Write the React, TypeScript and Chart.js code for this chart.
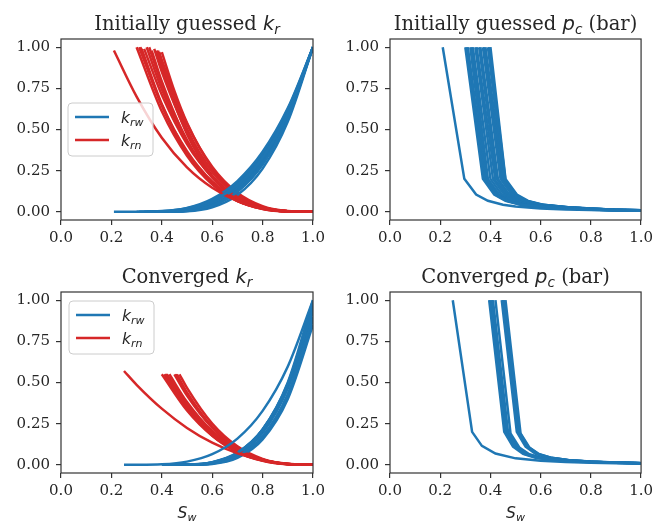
import React, { useEffect, useRef } from "react";
import { Chart, registerables } from "chart.js";

Chart.register(...registerables);

const BLUE = "#1f77b4";
const RED = "#d62728";
const TEXT = "#262626";
const SPINE = "#333333";

const xTickValues = [0, 0.2, 0.4, 0.6, 0.8, 1.0];
const xTickLabels = ["0.0", "0.2", "0.4", "0.6", "0.8", "1.0"];
const yTickValues = [0, 0.25, 0.5, 0.75, 1.0];
const yTickLabels = ["0.00", "0.25", "0.50", "0.75", "1.00"];
const xRange = [0, 1];
const yRange = [-0.05, 1.05];

const legendNames = ["rw", "rn"];

// ---- Initially guessed k_rw (Sw, krw) ----
const initKrwCurves: number[][][] = [
  [[0.21, 0], [0.3, 0.0003], [0.4, 0.0044], [0.5, 0.0222], [0.6, 0.0684], [0.7, 0.163], [0.8, 0.33], [0.9, 0.598], [1, 1]],
  [[0.3, 0], [0.4, 0.0029], [0.5, 0.0233], [0.6, 0.0787], [0.7, 0.1866], [0.8, 0.3644], [0.9, 0.6297], [1, 1]],
  [[0.31, 0], [0.4, 0.0012], [0.5, 0.0142], [0.6, 0.0573], [0.7, 0.1521], [0.8, 0.3232], [0.9, 0.5964], [1, 1]],
  [[0.33, 0], [0.4, 0.0009], [0.5, 0.0142], [0.6, 0.0598], [0.7, 0.1587], [0.8, 0.3331], [0.9, 0.6057], [1, 1]],
  [[0.34, 0], [0.4, 0.001], [0.5, 0.0164], [0.6, 0.0671], [0.7, 0.1724], [0.8, 0.351], [0.9, 0.621], [1, 1]],
  [[0.35, 0], [0.4, 0.0002], [0.5, 0.0068], [0.6, 0.0388], [0.7, 0.1219], [0.8, 0.2865], [0.9, 0.5668], [1, 1]],
  [[0.36, 0], [0.4, 0.0001], [0.5, 0.0077], [0.6, 0.0433], [0.7, 0.1321], [0.8, 0.3015], [0.9, 0.5806], [1, 1]],
  [[0.38, 0], [0.4, 0.0], [0.5, 0.0072], [0.6, 0.0447], [0.7, 0.1375], [0.8, 0.3109], [0.9, 0.59], [1, 1]],
  [[0.39, 0], [0.5, 0.0049], [0.6, 0.0367], [0.7, 0.1226], [0.8, 0.2918], [0.9, 0.5741], [1, 1]],
  [[0.4, 0], [0.5, 0.0027], [0.6, 0.0266], [0.7, 0.1015], [0.8, 0.2624], [0.9, 0.5479], [1, 1]],
];

// ---- Initially guessed k_rn (Sw, krn) ----
const initKrnCurves: number[][][] = [
  [[0.21, 0.98], [0.3, 0.7], [0.4, 0.45], [0.5, 0.27], [0.6, 0.146], [0.7, 0.065], [0.8, 0.021], [0.9, 0.003], [1, 0]],
  [[0.3, 1.0], [0.4, 0.6106], [0.5, 0.3407], [0.6, 0.1668], [0.7, 0.0664], [0.8, 0.0182], [0.9, 0.002], [1, 0]],
  [[0.31, 1.0], [0.4, 0.6484], [0.5, 0.3684], [0.6, 0.1845], [0.7, 0.0756], [0.8, 0.0215], [0.9, 0.0025], [1, 0]],
  [[0.315, 1.0], [0.4, 0.6458], [0.5, 0.3539], [0.6, 0.1694], [0.7, 0.0656], [0.8, 0.0172], [0.9, 0.0017], [1, 0]],
  [[0.32, 0.99], [0.4, 0.655], [0.5, 0.359], [0.6, 0.172], [0.7, 0.0665], [0.8, 0.0175], [0.9, 0.0018], [1, 0]],
  [[0.33, 0.99], [0.4, 0.711], [0.5, 0.411], [0.6, 0.211], [0.7, 0.0889], [0.8, 0.0263], [0.9, 0.0033], [1, 0]],
  [[0.34, 1.0], [0.4, 0.7442], [0.5, 0.4229], [0.6, 0.2118], [0.7, 0.0868], [0.8, 0.0247], [0.9, 0.0029], [1, 0]],
  [[0.35, 1.0], [0.4, 0.774], [0.5, 0.4319], [0.6, 0.2115], [0.7, 0.0842], [0.8, 0.023], [0.9, 0.0025], [1, 0]],
  [[0.36, 0.98], [0.4, 0.792], [0.5, 0.434], [0.6, 0.208], [0.7, 0.0804], [0.8, 0.0211], [0.9, 0.0022], [1, 0]],
  [[0.37, 0.99], [0.4, 0.851], [0.5, 0.484], [0.6, 0.242], [0.7, 0.0993], [0.8, 0.0282], [0.9, 0.0033], [1, 0]],
  [[0.38, 0.98], [0.4, 0.877], [0.5, 0.472], [0.6, 0.221], [0.7, 0.083], [0.8, 0.0209], [0.9, 0.002], [1, 0]],
  [[0.385, 0.98], [0.4, 0.906], [0.5, 0.505], [0.6, 0.247], [0.7, 0.0986], [0.8, 0.027], [0.9, 0.003], [1, 0]],
  [[0.39, 0.97], [0.4, 0.923], [0.5, 0.534], [0.6, 0.2735], [0.7, 0.1154], [0.8, 0.0342], [0.9, 0.0044], [1, 0]],
  [[0.4, 0.97], [0.45, 0.734], [0.5, 0.541], [0.6, 0.265], [0.7, 0.1055], [0.8, 0.0288], [0.9, 0.0032], [1, 0]],
];

// ---- Initially guessed p_c (Sw, pc in bar) ----
const initPcCurves: number[][][] = [
  [[0.21, 1], [0.296, 0.2], [0.343, 0.105], [0.39, 0.067], [0.45, 0.043], [0.5, 0.032], [0.6, 0.02], [0.7, 0.014], [0.8, 0.0105], [0.9, 0.0082], [1, 0.0066]],
  [[0.3, 1], [0.37, 0.2], [0.415, 0.105], [0.46, 0.066], [0.52, 0.043], [0.62, 0.028], [0.7, 0.02], [0.8, 0.013], [0.9, 0.009], [1, 0.007]],
  [[0.305, 1], [0.375, 0.2], [0.42, 0.105], [0.465, 0.066], [0.525, 0.043], [0.625, 0.028], [0.7, 0.021], [0.8, 0.014], [0.9, 0.0095], [1, 0.007]],
  [[0.31, 1], [0.38, 0.2], [0.425, 0.105], [0.47, 0.066], [0.53, 0.043], [0.63, 0.028], [0.7, 0.021], [0.8, 0.014], [0.9, 0.0095], [1, 0.007]],
  [[0.32, 1], [0.385, 0.19], [0.43, 0.1], [0.475, 0.064], [0.535, 0.042], [0.635, 0.027], [0.7, 0.021], [0.8, 0.014], [0.9, 0.0095], [1, 0.007]],
  [[0.325, 1], [0.39, 0.2], [0.435, 0.105], [0.48, 0.066], [0.54, 0.043], [0.64, 0.028], [0.7, 0.022], [0.8, 0.014], [0.9, 0.0098], [1, 0.0072]],
  [[0.33, 1], [0.4, 0.2], [0.445, 0.105], [0.49, 0.066], [0.55, 0.043], [0.65, 0.028], [0.7, 0.023], [0.8, 0.015], [0.9, 0.01], [1, 0.0075]],
  [[0.34, 1], [0.41, 0.2], [0.455, 0.105], [0.5, 0.066], [0.56, 0.043], [0.66, 0.028], [0.8, 0.016], [0.9, 0.0105], [1, 0.0078]],
  [[0.345, 1], [0.42, 0.19], [0.465, 0.1], [0.51, 0.064], [0.57, 0.042], [0.67, 0.027], [0.8, 0.016], [0.9, 0.011], [1, 0.008]],
  [[0.355, 1], [0.425, 0.2], [0.47, 0.105], [0.515, 0.066], [0.575, 0.043], [0.675, 0.028], [0.8, 0.017], [0.9, 0.011], [1, 0.008]],
  [[0.36, 1], [0.43, 0.2], [0.475, 0.105], [0.52, 0.066], [0.58, 0.043], [0.68, 0.028], [0.8, 0.017], [0.9, 0.011], [1, 0.008]],
  [[0.37, 1], [0.44, 0.2], [0.485, 0.105], [0.53, 0.066], [0.59, 0.043], [0.69, 0.028], [0.8, 0.018], [0.9, 0.012], [1, 0.008]],
  [[0.375, 1], [0.445, 0.2], [0.49, 0.105], [0.535, 0.066], [0.595, 0.043], [0.695, 0.028], [0.8, 0.018], [0.9, 0.012], [1, 0.0085]],
  [[0.38, 1], [0.45, 0.2], [0.495, 0.105], [0.54, 0.066], [0.6, 0.043], [0.7, 0.028], [0.8, 0.019], [0.9, 0.012], [1, 0.0085]],
  [[0.39, 1], [0.455, 0.19], [0.5, 0.1], [0.545, 0.064], [0.605, 0.042], [0.705, 0.027], [0.8, 0.019], [0.9, 0.012], [1, 0.0085]],
  [[0.395, 1], [0.46, 0.19], [0.505, 0.1], [0.55, 0.064], [0.61, 0.042], [0.71, 0.027], [0.8, 0.02], [0.9, 0.013], [1, 0.009]],
  [[0.4, 1], [0.46, 0.2], [0.505, 0.105], [0.55, 0.066], [0.61, 0.043], [0.71, 0.028], [0.8, 0.02], [0.9, 0.013], [1, 0.009]],
];

// ---- Converged k_rw ----
const convKrwCurves: number[][][] = [
  [[0.25, 0], [0.3, 0.0001], [0.4, 0.003], [0.5, 0.0192], [0.6, 0.0643], [0.7, 0.159], [0.8, 0.3274], [0.9, 0.5974], [1, 1]],
  [[0.4, 0], [0.5, 0.0011], [0.6, 0.0154], [0.7, 0.0718], [0.8, 0.2142], [0.9, 0.5002], [1, 1]],
  [[0.41, 0], [0.5, 0.0011], [0.6, 0.0161], [0.7, 0.0736], [0.8, 0.214], [0.9, 0.487], [1, 0.95]],
  [[0.42, 0], [0.5, 0.0004], [0.6, 0.0094], [0.7, 0.0526], [0.8, 0.173], [0.9, 0.43], [1, 0.9]],
  [[0.43, 0], [0.5, 0.0006], [0.6, 0.0141], [0.7, 0.071], [0.8, 0.2138], [0.9, 0.4938], [1, 0.97]],
  [[0.45, 0], [0.5, 0.0001], [0.6, 0.0072], [0.7, 0.0476], [0.8, 0.1653], [0.9, 0.4188], [1, 0.88]],
  [[0.46, 0], [0.5, 0.0001], [0.6, 0.0095], [0.7, 0.059], [0.8, 0.1929], [0.9, 0.4635], [1, 0.93]],
  [[0.47, 0], [0.5, 0.0], [0.6, 0.0054], [0.7, 0.0421], [0.8, 0.1544], [0.9, 0.4004], [1, 0.85]],
];

// ---- Converged k_rn ----
const convKrnCurves: number[][][] = [
  [[0.25, 0.57], [0.3, 0.486], [0.4, 0.341], [0.5, 0.224], [0.6, 0.134], [0.7, 0.0693], [0.8, 0.0272], [0.9, 0.0055], [1, 0]],
  [[0.4, 0.55], [0.5, 0.33], [0.6, 0.1767], [0.7, 0.079], [0.8, 0.0254], [0.9, 0.0036], [1, 0]],
  [[0.41, 0.55], [0.5, 0.34], [0.6, 0.178], [0.7, 0.0774], [0.8, 0.0239], [0.9, 0.0032], [1, 0]],
  [[0.415, 0.55], [0.5, 0.3544], [0.6, 0.1897], [0.7, 0.0848], [0.8, 0.0272], [0.9, 0.0039], [1, 0]],
  [[0.42, 0.55], [0.5, 0.368], [0.6, 0.2016], [0.7, 0.0927], [0.8, 0.0311], [0.9, 0.0048], [1, 0]],
  [[0.43, 0.55], [0.5, 0.381], [0.6, 0.204], [0.7, 0.0911], [0.8, 0.0293], [0.9, 0.0042], [1, 0]],
  [[0.45, 0.55], [0.5, 0.421], [0.6, 0.2255], [0.7, 0.1008], [0.8, 0.0324], [0.9, 0.0047], [1, 0]],
  [[0.455, 0.55], [0.5, 0.43], [0.6, 0.2277], [0.7, 0.1003], [0.8, 0.0316], [0.9, 0.0044], [1, 0]],
  [[0.46, 0.55], [0.5, 0.44], [0.6, 0.2304], [0.7, 0.1], [0.8, 0.0309], [0.9, 0.0041], [1, 0]],
  [[0.47, 0.55], [0.5, 0.467], [0.6, 0.2501], [0.7, 0.1118], [0.8, 0.0359], [0.9, 0.0052], [1, 0]],
];

// ---- Converged p_c ----
const convPcCurves: number[][][] = [
  [[0.25, 1], [0.327, 0.2], [0.366, 0.115], [0.42, 0.068], [0.5, 0.039], [0.6, 0.024], [0.7, 0.0167], [0.8, 0.0125], [0.9, 0.0098], [1, 0.0079]],
  [[0.395, 1], [0.455, 0.2], [0.49, 0.11], [0.53, 0.066], [0.58, 0.043], [0.65, 0.029], [0.75, 0.019], [0.85, 0.014], [1, 0.009]],
  [[0.4, 1], [0.46, 0.2], [0.495, 0.11], [0.535, 0.066], [0.585, 0.043], [0.655, 0.029], [0.75, 0.02], [0.85, 0.014], [1, 0.009]],
  [[0.405, 1], [0.465, 0.2], [0.5, 0.11], [0.54, 0.066], [0.59, 0.043], [0.66, 0.029], [0.75, 0.02], [0.85, 0.0145], [1, 0.0092]],
  [[0.41, 1], [0.47, 0.2], [0.505, 0.11], [0.545, 0.066], [0.595, 0.043], [0.665, 0.029], [0.75, 0.021], [0.85, 0.015], [1, 0.0095]],
  [[0.42, 1], [0.48, 0.19], [0.515, 0.105], [0.555, 0.064], [0.605, 0.042], [0.675, 0.028], [0.75, 0.021], [0.85, 0.015], [1, 0.0095]],
  [[0.445, 1], [0.505, 0.2], [0.54, 0.11], [0.58, 0.066], [0.63, 0.043], [0.7, 0.029], [0.8, 0.019], [0.9, 0.013], [1, 0.01]],
  [[0.45, 1], [0.51, 0.2], [0.545, 0.11], [0.585, 0.066], [0.635, 0.043], [0.705, 0.029], [0.8, 0.019], [0.9, 0.013], [1, 0.01]],
  [[0.455, 1], [0.515, 0.2], [0.55, 0.11], [0.59, 0.066], [0.64, 0.043], [0.71, 0.029], [0.8, 0.019], [0.9, 0.0135], [1, 0.01]],
  [[0.46, 1], [0.52, 0.19], [0.555, 0.105], [0.595, 0.064], [0.645, 0.042], [0.715, 0.028], [0.8, 0.02], [0.9, 0.014], [1, 0.01]],
];

type Seg = { t: string; font: string; dy?: number };

const SERIF_T = '19.5px "DejaVu Serif"';
const MATH_T = 'italic 19.5px "DejaVu Sans"';
const SUB_T = 'italic 13.6px "DejaVu Sans"';
const MATH15 = 'italic 15.5px "DejaVu Sans"';
const SUB15 = 'italic 11px "DejaVu Sans"';

type Panel = {
  x: number; y: number; w: number; h: number;
  yAxisWidth: number; xAxisHeight: number; padTop: number; padRight: number;
  series: { curves: number[][][]; color: string }[];
  smooth: boolean;
  title: Seg[];
  xlabel?: Seg[];
  legendOffset?: [number, number];
};

const panels: Panel[] = [
  {
    x: 0, y: 0, w: 330, h: 260, yAxisWidth: 61, xAxisHeight: 40, padTop: 39, padRight: 17,
    series: [{ curves: initKrwCurves, color: BLUE }, { curves: initKrnCurves, color: RED }],
    smooth: true,
    title: [{ t: "Initially guessed ", font: SERIF_T }, { t: "k", font: MATH_T }, { t: "r", font: SUB_T, dy: 3.5 }],
    legendOffset: [7, 64],
  },
  {
    x: 330, y: 0, w: 327, h: 260, yAxisWidth: 60, xAxisHeight: 40, padTop: 39, padRight: 14,
    series: [{ curves: initPcCurves, color: BLUE }],
    smooth: false,
    title: [{ t: "Initially guessed ", font: SERIF_T }, { t: "p", font: MATH_T }, { t: "c", font: SUB_T, dy: 3.5 }, { t: " (bar)", font: SERIF_T }],
  },
  {
    x: 0, y: 260, w: 330, h: 265, yAxisWidth: 61, xAxisHeight: 52, padTop: 32, padRight: 17,
    series: [{ curves: convKrwCurves, color: BLUE }, { curves: convKrnCurves, color: RED }],
    smooth: true,
    title: [{ t: "Converged ", font: SERIF_T }, { t: "k", font: MATH_T }, { t: "r", font: SUB_T, dy: 3.5 }],
    xlabel: [{ t: "S", font: MATH15 }, { t: "w", font: SUB15, dy: 3 }],
    legendOffset: [8, 9],
  },
  {
    x: 330, y: 260, w: 327, h: 265, yAxisWidth: 60, xAxisHeight: 52, padTop: 32, padRight: 14,
    series: [{ curves: convPcCurves, color: BLUE }],
    smooth: false,
    title: [{ t: "Converged ", font: SERIF_T }, { t: "p", font: MATH_T }, { t: "c", font: SUB_T, dy: 3.5 }, { t: " (bar)", font: SERIF_T }],
    xlabel: [{ t: "S", font: MATH15 }, { t: "w", font: SUB15, dy: 3 }],
  },
];

function drawSegs(ctx: CanvasRenderingContext2D, segs: Seg[], x0: number, baseline: number, center: boolean) {
  const widths = segs.map((s) => {
    ctx.font = s.font;
    return ctx.measureText(s.t).width;
  });
  const total = widths.reduce((a, b) => a + b, 0);
  let x = center ? x0 - total / 2 : x0;
  segs.forEach((s, i) => {
    ctx.font = s.font;
    ctx.fillText(s.t, x, baseline + (s.dy || 0));
    x += widths[i];
  });
}

function roundRectPath(ctx: CanvasRenderingContext2D, x: number, y: number, w: number, h: number, r: number) {
  ctx.beginPath();
  ctx.moveTo(x + r, y);
  ctx.lineTo(x + w - r, y);
  ctx.arcTo(x + w, y, x + w, y + r, r);
  ctx.lineTo(x + w, y + h - r);
  ctx.arcTo(x + w, y + h, x + w - r, y + h, r);
  ctx.lineTo(x + r, y + h);
  ctx.arcTo(x, y + h, x, y + h - r, r);
  ctx.lineTo(x, y + r);
  ctx.arcTo(x, y, x + r, y, r);
  ctx.closePath();
}

function decorPlugin(p: Panel) {
  return {
    id: "decor",
    afterDraw(chart: any) {
      const ctx: CanvasRenderingContext2D = chart.ctx;
      const a = chart.chartArea;
      ctx.save();
      ctx.strokeStyle = SPINE;
      ctx.lineWidth = 1.2;
      ctx.strokeRect(a.left, a.top, a.right - a.left, a.bottom - a.top);
      ctx.fillStyle = TEXT;
      ctx.textAlign = "left";
      ctx.textBaseline = "alphabetic";
      const cx = (a.left + a.right) / 2;
      drawSegs(ctx, p.title, cx, a.top - 9, true);
      if (p.xlabel) drawSegs(ctx, p.xlabel, cx, a.bottom + 45, true);
      if (p.legendOffset) {
        const bx = a.left + p.legendOffset[0];
        const by = a.top + p.legendOffset[1];
        const bw = 85, bh = 53;
        roundRectPath(ctx, bx, by, bw, bh, 4);
        ctx.fillStyle = "rgba(255,255,255,0.8)";
        ctx.fill();
        ctx.strokeStyle = "#cccccc";
        ctx.lineWidth = 1;
        ctx.stroke();
        p.series.forEach((s, i) => {
          const ly = by + 14 + i * 23;
          ctx.strokeStyle = s.color;
          ctx.lineWidth = 2.5;
          ctx.beginPath();
          ctx.moveTo(bx + 7, ly);
          ctx.lineTo(bx + 41, ly);
          ctx.stroke();
          ctx.fillStyle = TEXT;
          drawSegs(ctx, [{ t: "k", font: MATH15 }, { t: legendNames[i], font: SUB15, dy: 3 }], bx + 53, ly + 5.5, false);
        });
      }
      ctx.restore();
    },
  };
}

function buildConfig(p: Panel): any {
  const datasets: any[] = [];
  const maxLen = Math.max(...p.series.map((s) => s.curves.length));
  for (let i = 0; i < maxLen; i++) {
    p.series.forEach((s) => {
      const c = s.curves[i];
      if (!c) return;
      datasets.push({
        data: c.map(([x, y]) => ({ x, y })),
        borderColor: s.color,
        borderWidth: 2.5,
        pointRadius: 0,
        fill: false,
        tension: p.smooth ? 0.4 : 0,
        cubicInterpolationMode: p.smooth ? "monotone" : "default",
      });
    });
  }
  const tickFont = { family: '"DejaVu Serif"', size: 15 };
  return {
    type: "line",
    data: { datasets },
    plugins: [decorPlugin(p)],
    options: {
      animation: false,
      responsive: false,
      maintainAspectRatio: false,
      events: [],
      layout: { padding: { top: p.padTop, right: p.padRight, left: 0, bottom: 0 } },
      plugins: { legend: { display: false }, tooltip: { enabled: false }, title: { display: false } },
      scales: {
        x: {
          type: "linear",
          min: xRange[0],
          max: xRange[1],
          afterBuildTicks: (s: any) => {
            s.ticks = xTickValues.map((v) => ({ value: v }));
          },
          afterFit: (s: any) => {
            s.height = p.xAxisHeight;
          },
          ticks: {
            autoSkip: false,
            maxRotation: 0,
            padding: 4,
            color: TEXT,
            font: tickFont,
            callback: (v: number) => xTickLabels[xTickValues.indexOf(v)] ?? "",
          },
          grid: { drawOnChartArea: false, drawTicks: true, tickLength: 5, color: SPINE, lineWidth: 1.2 },
          border: { display: false },
        },
        y: {
          type: "linear",
          min: yRange[0],
          max: yRange[1],
          afterBuildTicks: (s: any) => {
            s.ticks = yTickValues.map((v) => ({ value: v }));
          },
          afterFit: (s: any) => {
            s.width = p.yAxisWidth;
          },
          ticks: {
            autoSkip: false,
            padding: 6,
            color: TEXT,
            font: tickFont,
            callback: (v: number) => yTickLabels[yTickValues.indexOf(v)] ?? "",
          },
          grid: { drawOnChartArea: false, drawTicks: true, tickLength: 5, color: SPINE, lineWidth: 1.2 },
          border: { display: false },
        },
      },
    },
  };
}

export default function App() {
  const canvases = useRef<(HTMLCanvasElement | null)[]>([]);
  useEffect(() => {
    const charts = panels.map((p, i) => new Chart(canvases.current[i] as HTMLCanvasElement, buildConfig(p)));
    return () => charts.forEach((c) => c.destroy());
  }, []);
  return (
    <div style={{ position: "absolute", left: 0, top: 0, width: 657, height: 525, background: "#ffffff" }}>
      {panels.map((p, i) => (
        <canvas
          key={i}
          ref={(el) => {
            canvases.current[i] = el;
          }}
          width={p.w}
          height={p.h}
          style={{ position: "absolute", left: p.x, top: p.y, width: p.w, height: p.h }}
        />
      ))}
    </div>
  );
}
